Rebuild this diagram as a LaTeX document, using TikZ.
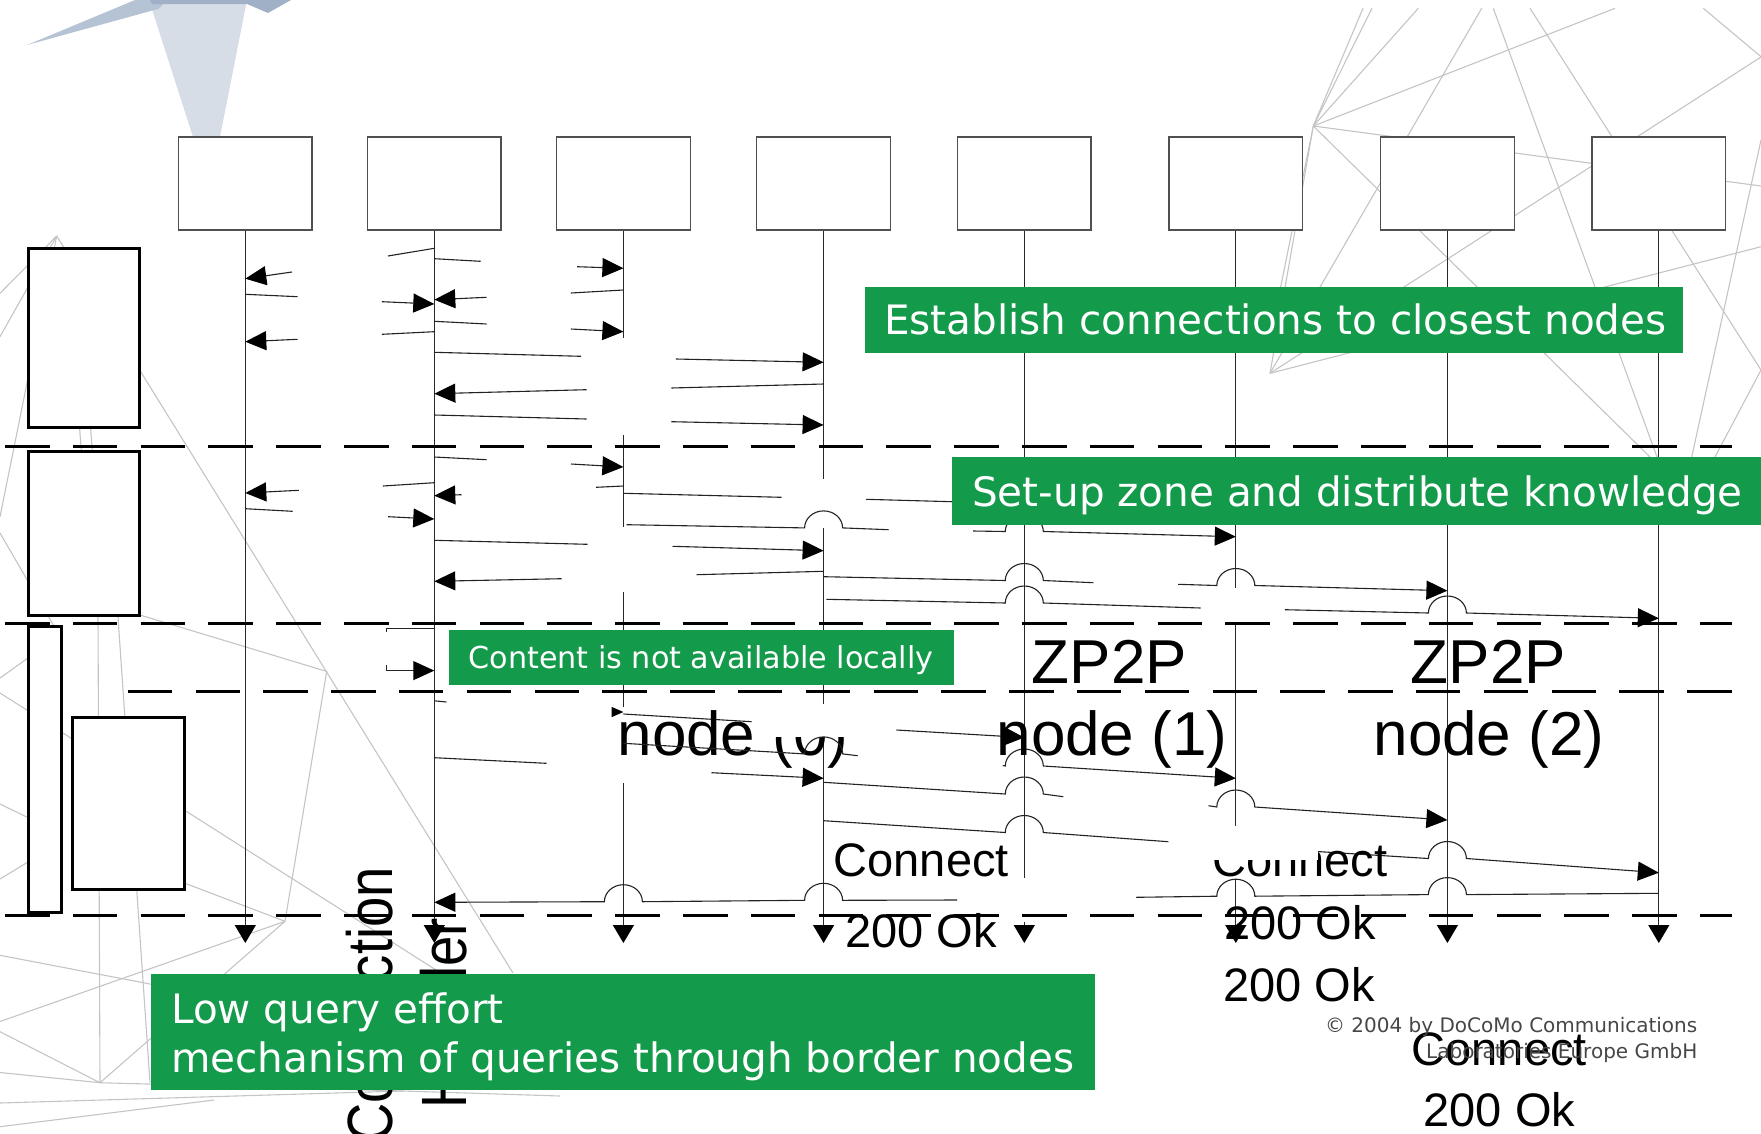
\documentclass[tikz,border=0pt]{standalone}
\usepackage{fontspec}
\setmainfont{Liberation Sans}
\newfontfamily\verafont{DejaVu Sans}
\usetikzlibrary{arrows.meta}
\definecolor{zgreen}{RGB}{19,154,74}
\definecolor{meshgray}{RGB}{196,196,196}
\definecolor{logolight}{RGB}{214,221,231}
\definecolor{logomid}{RGB}{182,195,212}
\definecolor{logodark}{RGB}{160,176,198}
\definecolor{boxline}{RGB}{80,80,80}
\definecolor{lifeline}{RGB}{40,40,40}
\definecolor{msgline}{RGB}{35,35,35}
\definecolor{copygray}{RGB}{70,70,70}
% lifeline positions
\def\lA{245.3}\def\lB{434.3}\def\lC{623.4}\def\lD{823.6}
\def\lE{1024.3}\def\lF{1235.8}\def\lG{1447.4}\def\lH{1658.8}
% a message line jumping over a lifeline, left to right and right to left
\newcommand\hopover[2]{-- (#1-19,#2) arc[start angle=180,end angle=360,x radius=19,y radius=17]}
\newcommand\hopback[2]{-- (#1+19,#2) arc[start angle=0,end angle=-180,x radius=19,y radius=17]}
\begin{document}
\begin{tikzpicture}[x=1pt,y=-1pt,
  topbox/.style={draw=boxline, line width=1.3pt, fill=white, minimum width=133.6pt, minimum height=93pt, inner sep=0pt},
  sidebox/.style={draw=black, line width=3pt, fill=white},
  life/.style={draw=lifeline, line width=1.2pt},
  msg/.style={draw=msgline, line width=1.1pt},
  tip/.style={-{Triangle[length=21pt,width=19pt,color=black]}},
  dtip/.style={-{Triangle[length=18pt,width=21pt,color=black]}},
  sep/.style={draw=black, line width=3pt, dash pattern=on 44.5pt off 23.3pt},
  mesh/.style={draw=meshgray, line width=1.1pt},
  gbox/.style={fill=zgreen, inner sep=0pt, anchor=north west},
  gtext/.style={text=white, inner sep=0pt, anchor=base west, font=\verafont\fontsize{40.5}{48}\selectfont},
  stext/.style={text=white, inner sep=0pt, anchor=base west, font=\verafont\fontsize{30.2}{36}\selectfont},
  big/.style={inner sep=0pt, anchor=base, font=\fontsize{62}{70}\selectfont},
  mid/.style={inner sep=0pt, anchor=base west, font=\fontsize{47}{54}\selectfont},
  rot/.style={inner sep=0pt, rotate=90, anchor=base east, font=\fontsize{64}{72}\selectfont},
  mask/.style={fill=white, draw=none}]
\useasboundingbox (0,0) rectangle (1761,1133);

% ---- logo in the top left corner
\fill[logolight] (149,0) -- (247,0) -- (220,137) -- (193,137) -- cycle;
\fill[logomid] (27,45) -- (135,0) -- (168,0) -- (158,9) -- cycle;
\fill[logodark] (150,0) -- (291,0) -- (268,13) -- (247,4) -- (152,4) -- cycle;

% ---- background mesh, left
\coordinate (p1) at (326.7,671.4);
\coordinate (p2) at (285,921.3);
\coordinate (p3) at (100,1082.7);
\coordinate (p4) at (56.7,236);
\draw[mesh] (p4) -- (513,973);
\draw[mesh] (p4) -- (0,293.3);
\draw[mesh] (p4) -- (0,336.7);
\draw[mesh] (p4) -- (0,516.7);
\draw[mesh] (0,533) -- (62,640);
\draw[mesh] (79,420) -- (82,460);
\draw[mesh] (90,420) -- (93,460);
\draw[mesh] (98,617) -- (p3);
\draw[mesh] (118,617) -- (150,1082.7);
\draw[mesh] (140,615) -- (p1) -- (p2);
\draw[mesh] (p2) -- (0,1021.5);
\draw[mesh] (p2) -- (p3);
\draw[mesh] (p3) -- (0,1072.5);
\draw[mesh] (p3) -- (0,1031.7);
\draw[mesh] (p3) -- (403,1091) -- (560,1096);
\draw[mesh] (0,1103) -- (403,1091);
\draw[mesh] (0,955.3) -- (150,984) -- (450,1040);
\draw[mesh] (0,693) -- (540,1036);
\draw[mesh] (150,870) -- (p2);
\draw[mesh] (0,804) -- (28,817.6);
\draw[mesh] (0,678) -- (28,658);
\draw[mesh] (0,879) -- (28,862);
\draw[mesh] (0,1126.7) -- (214,1100);

% ---- background mesh, right
\coordinate (qa) at (1313.3,126);
\coordinate (qb) at (1270,373.3);
\draw[mesh] (qa) -- (1363,8.3);
\draw[mesh] (qa) -- (1372,8.3);
\draw[mesh] (qa) -- (1418.3,8.3);
\draw[mesh] (qa) -- (1615,8.3);
\draw[mesh] (qa) -- (qb);
\draw[mesh] (qa) -- (1761,186);
\draw[mesh] (qa) -- (1650,457);
\draw[mesh] (qa) -- (1278,300);
\draw[mesh] (qb) -- (1761,246.7);
\draw[mesh] (qb) -- (1481.7,8.3);
\draw[mesh] (qb) -- (1761,57);
\draw[mesh] (1493.3,8.3) -- (1657,457);
\draw[mesh] (1761,140) -- (1691.7,457);
\draw[mesh] (1530,8.3) -- (1761,370) -- (1715,457);
\draw[mesh] (1703.3,8.3) -- (1761,56.7);

% ---- participants
\node[topbox] (b1) at (\lA,183.5) {};
\node[topbox] (b2) at (\lB,183.5) {};
\node[topbox] (b3) at (\lC,183.5) {};
\node[topbox] (b4) at (\lD,183.5) {};
\node[topbox] (b5) at (\lE,183.5) {};
\node[topbox] (b6) at (\lF,183.5) {};
\node[topbox] (b7) at (\lG,183.5) {};
\node[topbox] (b8) at (\lH,183.5) {};

% ---- phase boxes on the left
\draw[sidebox] (28.3,248.3) rectangle (139.7,427.7);
\draw[sidebox] (28.3,451.7) rectangle (139.7,615);
\draw[sidebox] (28.3,626) rectangle (61.6,912);
\draw[sidebox] (72.3,717) rectangle (184.4,889.5);

% ---- lifelines
\draw[life,dtip] (b1.south) -- (\lA,943);
\draw[life,dtip] (b2.south) -- (\lB,943);
\draw[life] (b3.south) -- (\lC,338.3);
\draw[life] (\lC,435) -- (\lC,526.7);
\draw[life] (\lC,591.7) -- (\lC,706.7);
\draw[life,dtip] (\lC,783) -- (\lC,943);
\draw[life] (b4.south) -- (\lD,479);
\draw[life,dtip] (\lD,528) -- (\lD,943);
\draw[life] (b5.south) -- (\lE,878);
\draw[life,dtip] (\lE,922) -- (\lE,943);
\draw[life] (b6.south) -- (\lF,588);
\draw[life] (\lF,622) -- (\lF,827);
\draw[life,dtip] (\lF,880) -- (\lF,943);
\draw[life,dtip] (b7.south) -- (\lG,943);
\draw[life,dtip] (b8.south) -- (\lH,943);

% ---- phase 1 messages
\draw[msg,tip] (292,272) -- (\lA,278.7);
\draw[msg] (\lA,294.3) -- (297.7,296.7);
\draw[msg,tip] (297.7,339.3) -- (\lA,341.7);
\draw[msg] (388,256) -- (\lB,248.3);
\draw[msg] (\lB,258.7) -- (480.6,261.3);
\draw[msg,tip] (381.9,301.7) -- (\lB,304);
\draw[msg,tip] (486.7,297.3) -- (\lB,299.7);
\draw[msg] (\lB,321.3) -- (486.7,324);
\draw[msg] (381.9,334.3) -- (\lB,331.7);
\draw[msg] (\lB,352.3) -- (581,356.3);
\draw[msg,tip] (586.6,389.7) -- (\lB,393.7);
\draw[msg] (\lB,415) -- (586.6,419);
\draw[msg,tip] (577,266.7) -- (\lC,268.3);
\draw[msg] (570.9,293) -- (\lC,290);
\draw[msg,tip] (570.9,329) -- (\lC,331.7);
\draw[msg,tip] (675.9,359) -- (\lD,362.3);
\draw[msg] (671.3,388) -- (\lD,384);
\draw[msg,tip] (671.3,421.7) -- (\lD,425);

% ---- phase 2 messages
\draw[msg,tip] (298.8,490.3) -- (\lA,493);
\draw[msg] (\lA,508.7) -- (292.7,511.3);
\draw[msg] (\lB,457) -- (486.7,459.7);
\draw[msg] (383,486) -- (\lB,482.7);
\draw[msg,tip] (461.5,494.7) -- (\lB,495.7);
\draw[msg,tip] (388,516.7) -- (\lB,519);
\draw[msg] (\lB,540.3) -- (587.5,544.3);
\draw[msg,tip] (561.7,578.7) -- (\lB,581.3);
\draw[msg,tip] (571,464) -- (\lC,467);
\draw[msg] (596,487.3) -- (\lC,486);
\draw[msg] (\lC,493.3) -- (781.5,497.3);
\draw[msg] (866,499.3) -- (951.8,501.7);
\draw[msg] (626.5,524.7) \hopover{\lD}{527.9} -- (888.7,529.7);
\draw[msg,tip] (973,531) \hopover{\lE}{531.5} -- (\lF,536.7);
\draw[msg,tip] (672.5,546.3) -- (\lD,550.7);
\draw[msg] (696.6,574.7) -- (\lD,571.3);
\draw[msg] (\lD,576.7) \hopover{\lE}{580.5} -- (1093.4,582.7);
\draw[msg,tip] (1178,584.3) \hopover{\lF}{585.5} -- (\lG,590.7);
\draw[msg] (826.3,599.3) \hopover{\lE}{603} -- (1200.7,608);
\draw[msg,tip] (1284.8,609.7) \hopover{\lG}{613} -- (\lH,618.3);

% ---- phase 3 messages
\draw[msg] (386.7,631.5) -- (386.7,628.6) -- (\lB,628.6);
\draw[msg,tip] (386.7,665) -- (386.7,670.6) -- (\lB,670.6);
\draw[msg] (\lB,700.8) -- (446.5,702);

% ---- phase 4 messages
\draw[msg] (\lB,757.7) -- (546.5,763.3);
\fill[black] (611.7,706.9) -- (\lC,712) -- (611.7,717.1) -- cycle;
\draw[msg] (\lC,714) -- (751.7,721.7);
\draw[msg,tip] (711.5,772.7) -- (\lD,778.3);
\draw[msg] (\lD,782.3) \hopover{\lE}{794} -- (1063.4,796.7);
\draw[msg,tip] (896.4,730) -- (\lE,737.5);
\draw[msg,tip] (1002.7,765.5) \hopover{\lE}{766} -- (\lF,778.3);
\draw[msg,tip] (1208.5,805.7) \hopover{\lF}{807} -- (\lG,820);
\draw[msg] (\lD,820.7) \hopover{\lE}{832.5} -- (1168.3,841.7);
\draw[msg,tip] (1313.7,851.3) \hopover{\lG}{858.5} -- (\lH,872.7);
\draw[msg] (\lH,893.3) \hopback{\lG}{894.6} \hopback{\lF}{896.2} -- (1136,897.3);
\draw[msg,tip] (957.1,900) \hopback{\lD}{900.3} \hopback{\lC}{901.7} -- (\lB,902.3);

% ---- phase separators
\draw[sep] (5,446) -- (1731.7,446);
\draw[sep] (5,623.5) -- (1731.7,623.5);
\draw[sep] (127.7,691) -- (1731.7,691);
\draw[sep] (5,915.5) -- (1731.7,915.5);

% ---- node names and message labels
\node[big] (z0) at (733,683.5) {ZP2P};
\node[big] (z1) at (1109.5,683.5) {ZP2P};
\node[big] (z2) at (1488.5,683.5) {ZP2P};
\node[big] (n0) at (733,755) {node (0)};
\node[big] (n1) at (1112,755) {node (1)};
\node[big] (n2) at (1489,755) {node (2)};
\node[mid] (c1) at (833.5,876.7) {Connect};
\node[mid] (k1) at (845,947.3) {200 Ok};
\node[mid] (c2) at (1212,876.7) {Connect};
\node[mid] (k2) at (1224,939.3) {200 Ok};
\node[mid] (k3) at (1223,1001.7) {200 Ok};
\node[mid] (c3) at (1411.5,1065) {Connect};
\node[mid] (k4) at (1423.5,1126.7) {200 Ok};
\fill[mask] (770,704) rectangle (852,737);
\fill[mask] (1170,826) rectangle (1318,860);
\draw[msg] (\lC,743.3) \hopover{\lD}{753.9} -- (857.7,755.7);

% ---- vertical participant label
\node[rot] (ch1) at (392.7,866.9) {\scalebox{0.85}[1]{Connection}};
\node[rot] (ch2) at (466.7,917.8) {\scalebox{0.85}[1]{Handler}};

% ---- phase captions
\node[gbox, minimum width=817.6pt, minimum height=66.3pt] (g1) at (864.8,286.4) {};
\node[gtext] (t1) at (884,334.3) {Establish connections to closest nodes};
\node[gbox, minimum width=809pt, minimum height=68pt] (g2) at (952,457) {};
\node[gtext] (t2) at (972,506) {Set-up zone and distribute knowledge};
\node[gbox, minimum width=505pt, minimum height=55pt] (g3) at (449,630) {};
\node[stext] (t3) at (468.3,668.3) {Content is not available locally};
\node[gbox, minimum width=944.5pt, minimum height=115.4pt] (g4) at (150.5,974) {};
\node[gtext] (t4) at (171,1023.3) {Low query effort};
\node[gtext] (t5) at (171,1072.5) {mechanism of queries through border nodes};

% ---- copyright
\node[inner sep=0pt, anchor=base east, text=copygray, font=\verafont\fontsize{20}{25}\selectfont] (cp1) at (1697.5,1032.6) {© 2004 by DoCoMo Communications};
\node[inner sep=0pt, anchor=base east, text=copygray, font=\verafont\fontsize{20}{25}\selectfont] (cp2) at (1697.5,1058) {Laboratories Europe GmbH};
\end{tikzpicture}
\end{document}
